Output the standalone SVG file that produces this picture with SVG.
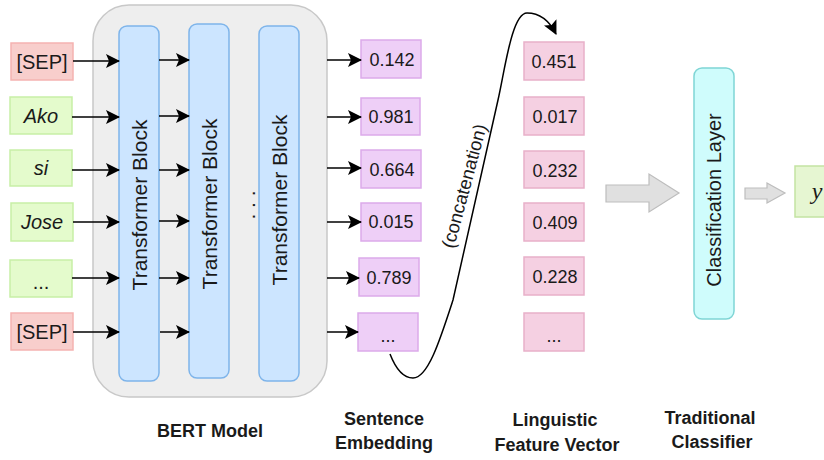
<svg xmlns="http://www.w3.org/2000/svg" width="824" height="460" viewBox="0 0 824 460">
<defs>
<marker id="ah" viewBox="0 0 14 14" refX="13" refY="7" markerWidth="14" markerHeight="14" markerUnits="userSpaceOnUse" orient="auto">
<path d="M0,0 L14,7 L0,14 L3,7 Z" fill="#000"/>
</marker>
<style>
.t{font-family:"Liberation Sans",Arial,sans-serif;fill:#1a1a1a}
.in{font-size:20px;text-anchor:middle;dominant-baseline:central}
.it{font-style:italic}
.num{font-size:18px;text-anchor:middle;dominant-baseline:central}
.lbl{font-size:18px;font-weight:bold;text-anchor:middle}
.rot{font-size:21px;text-anchor:middle;dominant-baseline:central}
.red{fill:#f8cecc;stroke:#f5b3b1;stroke-width:1.5}
.grn{fill:#e4fbcc;stroke:#c7efa6;stroke-width:1.5}
.pur{fill:#eecff7;stroke:#dcaaea;stroke-width:1.5}
.pnk{fill:#f5d0e2;stroke:#e8b0c9;stroke-width:1.5}
.blk{fill:#cce5ff;stroke:#7eb4ea;stroke-width:1.5}
.ln{stroke:#000;stroke-width:1.5;fill:none}
.gar{fill:#e0e0e0;stroke:#bdbdbd;stroke-width:1.2}
</style>
</defs>
<rect width="824" height="460" fill="#fff"/>

<g id="bert">
<rect x="93" y="5" width="234" height="392" rx="36" fill="#eeeeee" stroke="#c8c8c8" stroke-width="1.5"/>
</g>
<g id="tb1"><rect class="blk" x="119" y="26" width="40" height="355" rx="8"/><text class="t rot" transform="translate(139,205) rotate(-90)">Transformer Block</text></g>
<g id="tb2"><rect class="blk" x="189" y="24" width="40" height="354" rx="8"/><text class="t rot" transform="translate(209,204) rotate(-90)">Transformer Block</text></g>
<g id="tb3"><rect class="blk" x="259" y="26" width="40" height="355" rx="8"/><text class="t rot" transform="translate(279,200) rotate(-90)">Transformer Block</text></g>
<g id="dots"><text class="t" font-size="21" text-anchor="middle" dominant-baseline="central" transform="translate(247,205) rotate(-90)">. . .</text></g>

<g id="in1"><rect class="red" x="11" y="43" width="62" height="37"/><text class="t in" x="42" y="61.5">[SEP]</text></g>
<g id="in2"><rect class="grn" x="10" y="97" width="62" height="37"/><text class="t in it" x="41" y="116">Ako</text></g>
<g id="in3"><rect class="grn" x="10" y="150" width="62" height="36"/><text class="t in it" x="41" y="168">si</text></g>
<g id="in4"><rect class="grn" x="11" y="203" width="62" height="38"/><text class="t in it" x="42" y="222">Jose</text></g>
<g id="in5"><rect class="grn" x="10" y="260" width="62" height="37"/><text class="t in" x="41" y="282">...</text></g>
<g id="in6"><rect class="red" x="11" y="313" width="62" height="37"/><text class="t in" x="42" y="331.5">[SEP]</text></g>

<g id="se1"><rect class="pur" x="361" y="40" width="60" height="38"/><text class="t num" x="392" y="60">0.142</text></g>
<g id="se2"><rect class="pur" x="361" y="98" width="59" height="37"/><text class="t num" x="391" y="117">0.981</text></g>
<g id="se3"><rect class="pur" x="361" y="150" width="60" height="38"/><text class="t num" x="392" y="170">0.664</text></g>
<g id="se4"><rect class="pur" x="361" y="203" width="60" height="38"/><text class="t num" x="391" y="222">0.015</text></g>
<g id="se5"><rect class="pur" x="359" y="258" width="60" height="38"/><text class="t num" x="389" y="278">0.789</text></g>
<g id="se6"><rect class="pur" x="358" y="313" width="60" height="38"/><text class="t num" x="388" y="336" font-size="14">...</text></g>

<g id="lf1"><rect class="pnk" x="524" y="42" width="60" height="38"/><text class="t num" x="554" y="62">0.451</text></g>
<g id="lf2"><rect class="pnk" x="524" y="97" width="60" height="38"/><text class="t num" x="555" y="117">0.017</text></g>
<g id="lf3"><rect class="pnk" x="524" y="151" width="60" height="37"/><text class="t num" x="555" y="171">0.232</text></g>
<g id="lf4"><rect class="pnk" x="524" y="203" width="60" height="38"/><text class="t num" x="555" y="223">0.409</text></g>
<g id="lf5"><rect class="pnk" x="524" y="257" width="60" height="38"/><text class="t num" x="555" y="277">0.228</text></g>
<g id="lf6"><rect class="pnk" x="524" y="313" width="60" height="38"/><text class="t num" x="554" y="336" font-size="14">...</text></g>

<g id="cls"><rect x="694" y="68" width="40" height="251" rx="8" fill="#cffcfc" stroke="#7fd5d5" stroke-width="1.5"/><text class="t" font-size="20" text-anchor="middle" dominant-baseline="central" transform="translate(714,200) rotate(-90)">Classification Layer</text></g>

<g id="out"><rect x="795" y="166" width="40" height="51" fill="#e6f6d2" stroke="#c3e3a3" stroke-width="1.5"/><text x="817" y="199" font-family="'Liberation Serif','Times New Roman',serif" font-style="italic" font-size="24" fill="#1a1a1a" text-anchor="middle">y</text></g>

<g id="connectors">
<g class="ln" marker-end="url(#ah)">
<line x1="73" y1="61" x2="119" y2="61"/>
<line x1="72" y1="117" x2="119" y2="117"/>
<line x1="72" y1="170" x2="119" y2="170"/>
<line x1="73" y1="222" x2="119" y2="222"/>
<line x1="72" y1="278" x2="119" y2="278"/>
<line x1="73" y1="332" x2="119" y2="332"/>
<line x1="159" y1="60" x2="189" y2="60"/>
<line x1="159" y1="116" x2="189" y2="116"/>
<line x1="159" y1="170" x2="189" y2="170"/>
<line x1="159" y1="221" x2="189" y2="221"/>
<line x1="159" y1="278" x2="189" y2="278"/>
<line x1="160" y1="332" x2="189" y2="332"/>
<line x1="327" y1="60" x2="361" y2="60"/>
<line x1="327" y1="117" x2="361" y2="117"/>
<line x1="327" y1="168" x2="361" y2="168"/>
<line x1="327" y1="222" x2="361" y2="222"/>
<line x1="327" y1="278" x2="359" y2="278"/>
<line x1="327" y1="332" x2="358" y2="332"/>
<path d="M390,354 C397,372 405,378 413,378 C428,378 440,340 453,300 L498,100 C505,69 512,13 527,13 C541,13 550,22 556,34"/>
</g>
<text class="t" font-size="18.5" text-anchor="middle" dominant-baseline="central" transform="translate(464,186) rotate(-75)">(concatenation)</text>
<path class="gar" d="M606,185 L649,185 L649,174 L679,193 L649,212 L649,202 L606,202 Z"/>
<path class="gar" d="M745,188 L767,188 L767,183 L785,193 L767,203 L767,199 L745,199 Z"/>
</g>

<g id="labels">
<text class="t lbl" x="210" y="437">BERT Model</text>
<text class="t lbl" x="384" y="425">Sentence</text>
<text class="t lbl" x="384" y="449">Embedding</text>
<text class="t lbl" x="555" y="426">Linguistic</text>
<text class="t lbl" x="557" y="451">Feature Vector</text>
<text class="t lbl" x="710" y="424">Traditional</text>
<text class="t lbl" x="712" y="448">Classifier</text>
</g>
</svg>
